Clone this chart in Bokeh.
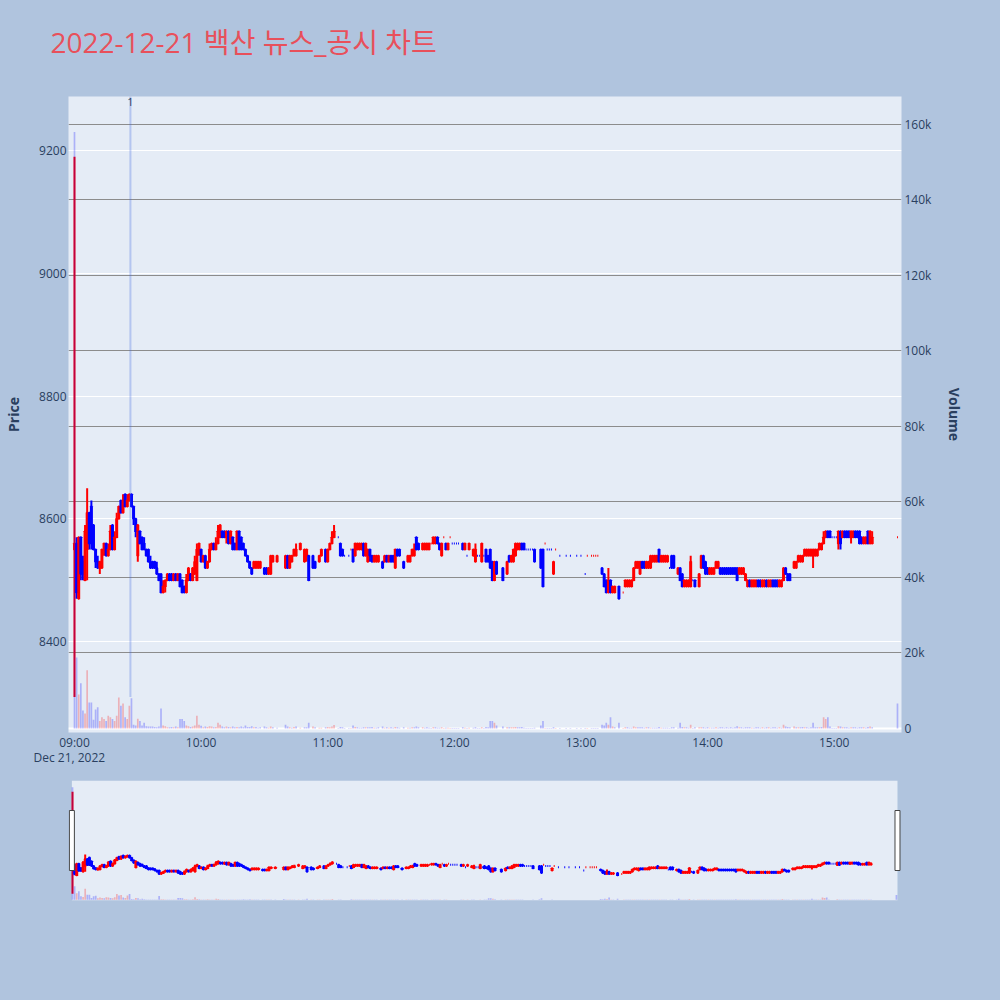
import numpy as np
import pandas as pd
from bokeh.plotting import figure
from bokeh.models import (ColumnDataSource, Range1d, LinearAxis, FixedTicker, Label,
                          BoxAnnotation, Title)
from bokeh.layouts import column
from bokeh.embed import file_html
from bokeh.resources import INLINE

# ---------------- data ----------------
TITLE = "2022-12-21 백산 뉴스_공시 차트"
DATE = "2022-12-21"
DATE_LABEL = "Dec 21, 2022"
PREV_CLOSE = 8600
NEWS_TIMES = ["09:26:30"]
NEWS_LABELS = ["1"]
PRICE_TICKS = [8400, 8600, 8800, 9000, 9200]
VOL_TICKS = [0, 20000, 40000, 60000, 80000, 100000, 120000, 140000, 160000]
VOL_TICK_LABELS = ["0", "20k", "40k", "60k", "80k", "100k", "120k", "140k", "160k"]
HOUR_TICKS = ["09:00", "10:00", "11:00", "12:00", "13:00", "14:00", "15:00"]

MINUTES = [
    0, 1, 2, 3, 4, 5, 6, 7, 8, 9,
    10, 11, 12, 13, 14, 15, 16, 17, 18, 19,
    20, 21, 22, 23, 24, 25, 26, 27, 28, 29,
    30, 31, 32, 33, 34, 35, 36, 37, 38, 39,
    40, 41, 42, 43, 44, 45, 46, 47, 48, 49,
    50, 51, 52, 53, 54, 55, 56, 57, 58, 59,
    60, 61, 62, 63, 64, 65, 66, 67, 68, 69,
    70, 71, 72, 73, 74, 75, 76, 77, 78, 79,
    80, 81, 82, 83, 84, 85, 86, 87, 88, 90,
    91, 92, 93, 94, 96, 100, 101, 102, 103, 104,
    105, 107, 109, 110, 111, 113, 114, 116, 117, 119,
    120, 121, 122, 123, 125, 126, 127, 128, 130, 131,
    132, 133, 134, 135, 136, 137, 138, 139, 140, 141,
    142, 143, 144, 146, 147, 148, 149, 150, 151, 152,
    153, 154, 156, 158, 159, 160, 161, 162, 163, 165,
    166, 167, 168, 169, 170, 171, 172, 173, 174, 175,
    176, 177, 178, 179, 180, 181, 182, 184, 185, 186,
    187, 189, 190, 191, 192, 193, 194, 195, 196, 197,
    198, 199, 200, 203, 205, 206, 207, 208, 209, 210,
    211, 212, 213, 214, 215, 216, 217, 218, 221, 222,
    223, 224, 225, 226, 227, 228, 230, 233, 235, 238,
    240, 242, 243, 245, 246, 247, 248, 250, 251, 252,
    253, 254, 255, 256, 258, 260, 261, 262, 263, 264,
    265, 266, 267, 268, 269, 270, 271, 272, 273, 274,
    275, 276, 277, 278, 279, 280, 281, 282, 283, 284,
    286, 287, 288, 289, 290, 291, 292, 293, 294, 296,
    297, 298, 299, 300, 301, 302, 303, 304, 305, 306,
    307, 308, 309, 310, 311, 312, 313, 314, 315, 316,
    317, 318, 319, 320, 321, 322, 323, 324, 325, 326,
    327, 328, 329, 330, 331, 332, 333, 334, 335, 336,
    337, 338, 339, 341, 342, 343, 344, 345, 346, 347,
    348, 349, 350, 351, 352, 353, 354, 355, 356, 357,
    358, 359, 360, 361, 362, 363, 364, 365, 366, 367,
    368, 369, 370, 371, 372, 373, 374, 375, 376, 377,
    378, 390,
]
OPEN = [
    8550, 8560, 8470, 8570, 8530, 8500, 8550, 8610, 8620, 8590,
    8550, 8530, 8520, 8520, 8550, 8560, 8540, 8550, 8590, 8550,
    8570, 8600, 8630, 8610, 8640, 8620, 8630, 8640, 8620, 8600,
    8540, 8580, 8570, 8560, 8550, 8550, 8530, 8530, 8530, 8520,
    8510, 8510, 8480, 8490, 8500, 8510, 8510, 8500, 8510, 8500,
    8510, 8500, 8490, 8480, 8500, 8510, 8500, 8510, 8500, 8550,
    8550, 8530, 8540, 8520, 8530, 8550, 8560, 8550, 8560, 8570,
    8580, 8580, 8570, 8580, 8560, 8570, 8560, 8550, 8580, 8570,
    8560, 8550, 8540, 8530, 8520, 8520, 8520, 8520, 8520, 8520,
    8520, 8510, 8510, 8530, 8530, 8520, 8540, 8520, 8530, 8540,
    8540, 8550, 8530, 8540, 8540, 8540, 8530, 8530, 8540, 8550,
    8530, 8550, 8560, 8570, 8570, 8560, 8550, 8540, 8540, 8550,
    8550, 8540, 8550, 8550, 8550, 8560, 8540, 8530, 8550, 8540,
    8530, 8530, 8530, 8530, 8530, 8540, 8530, 8540, 8540, 8520,
    8550, 8550, 8530, 8530, 8530, 8540, 8540, 8570, 8560, 8550,
    8550, 8550, 8550, 8560, 8560, 8560, 8570, 8560, 8540, 8570,
    8560, 8550, 8570, 8560, 8560, 8560, 8560, 8560, 8550, 8540,
    8550, 8540, 8530, 8540, 8540, 8530, 8540, 8550, 8540, 8550,
    8530, 8500, 8530, 8520, 8510, 8540, 8530, 8530, 8540, 8550,
    8550, 8560, 8560, 8550, 8550, 8550, 8550, 8550, 8550, 8550,
    8560, 8550, 8550, 8550, 8510, 8550, 8540, 8540, 8540, 8540,
    8540, 8510, 8540, 8540, 8540, 8540, 8540, 8520, 8510, 8500,
    8480, 8500, 8480, 8480, 8490, 8480, 8490, 8490, 8490, 8490,
    8500, 8520, 8520, 8510, 8530, 8530, 8520, 8520, 8520, 8530,
    8530, 8530, 8550, 8530, 8530, 8530, 8530, 8520, 8540, 8540,
    8510, 8520, 8510, 8490, 8490, 8490, 8490, 8500, 8500, 8490,
    8520, 8540, 8530, 8520, 8510, 8510, 8510, 8520, 8520, 8520,
    8520, 8520, 8520, 8520, 8520, 8520, 8520, 8520, 8510, 8510,
    8510, 8500, 8490, 8500, 8490, 8490, 8490, 8500, 8500, 8490,
    8490, 8500, 8490, 8490, 8500, 8500, 8500, 8490, 8490, 8500,
    8520, 8510, 8510, 8520, 8520, 8530, 8530, 8530, 8540, 8540,
    8540, 8540, 8540, 8540, 8540, 8550, 8550, 8560, 8570, 8580,
    8580, 8570, 8570, 8570, 8560, 8580, 8570, 8580, 8580, 8580,
    8570, 8570, 8580, 8580, 8580, 8570, 8560, 8560, 8580, 8560,
    8560, 8570,
]
HIGH = [
    9190, 8570, 8570, 8570, 8540, 8590, 8650, 8610, 8630, 8590,
    8550, 8540, 8530, 8550, 8560, 8560, 8560, 8590, 8590, 8580,
    8610, 8620, 8630, 8640, 8640, 8640, 8640, 8640, 8620, 8600,
    8590, 8580, 8570, 8570, 8550, 8550, 8540, 8530, 8530, 8530,
    8510, 8510, 8500, 8500, 8510, 8510, 8510, 8510, 8510, 8510,
    8510, 8500, 8490, 8510, 8520, 8510, 8520, 8540, 8560, 8560,
    8550, 8540, 8540, 8530, 8560, 8560, 8560, 8570, 8590, 8590,
    8580, 8580, 8580, 8580, 8580, 8570, 8560, 8580, 8580, 8570,
    8560, 8550, 8540, 8530, 8520, 8530, 8530, 8530, 8530, 8520,
    8520, 8520, 8540, 8540, 8540, 8540, 8540, 8540, 8540, 8550,
    8560, 8560, 8550, 8550, 8540, 8540, 8530, 8540, 8550, 8550,
    8550, 8560, 8580, 8590, 8570, 8560, 8550, 8540, 8540, 8550,
    8550, 8560, 8560, 8560, 8560, 8560, 8560, 8550, 8550, 8540,
    8540, 8540, 8540, 8530, 8540, 8540, 8540, 8540, 8540, 8550,
    8550, 8550, 8530, 8540, 8540, 8550, 8560, 8570, 8560, 8560,
    8560, 8560, 8560, 8560, 8570, 8570, 8570, 8560, 8560, 8570,
    8560, 8560, 8570, 8560, 8560, 8560, 8560, 8560, 8560, 8540,
    8560, 8550, 8560, 8540, 8540, 8560, 8540, 8550, 8540, 8550,
    8530, 8530, 8530, 8520, 8530, 8540, 8540, 8550, 8560, 8560,
    8560, 8560, 8560, 8550, 8550, 8550, 8550, 8550, 8550, 8550,
    8560, 8550, 8550, 8550, 8530, 8550, 8540, 8540, 8540, 8540,
    8540, 8510, 8540, 8540, 8540, 8540, 8540, 8520, 8510, 8500,
    8520, 8500, 8490, 8490, 8490, 8480, 8500, 8500, 8500, 8500,
    8520, 8530, 8530, 8530, 8530, 8530, 8530, 8530, 8540, 8540,
    8540, 8540, 8550, 8540, 8540, 8540, 8540, 8520, 8540, 8540,
    8520, 8520, 8510, 8500, 8500, 8500, 8540, 8500, 8500, 8510,
    8540, 8540, 8530, 8520, 8520, 8520, 8520, 8530, 8530, 8520,
    8520, 8520, 8520, 8520, 8520, 8520, 8520, 8520, 8520, 8520,
    8520, 8510, 8500, 8500, 8500, 8500, 8500, 8500, 8500, 8500,
    8500, 8500, 8500, 8500, 8500, 8500, 8500, 8500, 8500, 8520,
    8520, 8510, 8510, 8530, 8530, 8540, 8540, 8540, 8550, 8550,
    8550, 8550, 8550, 8550, 8550, 8560, 8560, 8580, 8580, 8580,
    8580, 8570, 8570, 8570, 8580, 8580, 8580, 8580, 8580, 8580,
    8580, 8580, 8580, 8580, 8580, 8570, 8570, 8570, 8580, 8580,
    8580, 8570,
]
LOW = [
    8310, 8470, 8470, 8500, 8500, 8500, 8500, 8550, 8550, 8550,
    8520, 8520, 8510, 8520, 8540, 8540, 8540, 8550, 8550, 8550,
    8570, 8600, 8610, 8610, 8620, 8620, 8630, 8620, 8590, 8570,
    8530, 8560, 8550, 8550, 8540, 8530, 8520, 8520, 8520, 8510,
    8500, 8480, 8480, 8480, 8500, 8500, 8500, 8500, 8500, 8500,
    8490, 8480, 8480, 8480, 8500, 8500, 8500, 8510, 8500, 8540,
    8530, 8530, 8520, 8520, 8530, 8550, 8550, 8550, 8560, 8570,
    8570, 8570, 8560, 8560, 8560, 8550, 8550, 8550, 8550, 8550,
    8550, 8540, 8530, 8520, 8510, 8520, 8520, 8520, 8520, 8510,
    8510, 8510, 8510, 8530, 8530, 8520, 8520, 8520, 8530, 8540,
    8540, 8550, 8530, 8530, 8500, 8520, 8520, 8530, 8540, 8530,
    8530, 8550, 8560, 8570, 8570, 8540, 8540, 8540, 8540, 8550,
    8530, 8540, 8550, 8550, 8550, 8540, 8540, 8530, 8530, 8530,
    8530, 8530, 8530, 8520, 8530, 8530, 8530, 8530, 8530, 8520,
    8540, 8540, 8520, 8530, 8530, 8540, 8540, 8550, 8550, 8550,
    8550, 8550, 8550, 8560, 8560, 8560, 8560, 8550, 8540, 8570,
    8550, 8550, 8570, 8560, 8560, 8560, 8560, 8550, 8550, 8540,
    8550, 8540, 8530, 8540, 8540, 8530, 8540, 8530, 8530, 8520,
    8500, 8500, 8510, 8500, 8510, 8530, 8530, 8530, 8540, 8550,
    8550, 8550, 8550, 8550, 8550, 8550, 8550, 8530, 8520, 8490,
    8560, 8550, 8550, 8550, 8510, 8550, 8540, 8540, 8540, 8540,
    8540, 8510, 8540, 8540, 8540, 8540, 8540, 8510, 8490, 8480,
    8480, 8480, 8480, 8480, 8470, 8480, 8490, 8490, 8490, 8490,
    8500, 8520, 8520, 8510, 8520, 8520, 8520, 8520, 8520, 8530,
    8530, 8530, 8530, 8530, 8530, 8530, 8530, 8520, 8520, 8520,
    8510, 8500, 8490, 8490, 8490, 8490, 8490, 8500, 8490, 8490,
    8520, 8520, 8510, 8510, 8510, 8510, 8510, 8520, 8520, 8510,
    8510, 8510, 8510, 8510, 8510, 8510, 8510, 8500, 8510, 8510,
    8510, 8500, 8490, 8490, 8490, 8490, 8490, 8490, 8490, 8490,
    8490, 8490, 8490, 8490, 8490, 8490, 8490, 8490, 8490, 8500,
    8510, 8500, 8500, 8520, 8520, 8530, 8530, 8530, 8540, 8540,
    8540, 8540, 8520, 8540, 8540, 8550, 8550, 8560, 8570, 8570,
    8570, 8570, 8570, 8570, 8550, 8550, 8570, 8570, 8570, 8570,
    8560, 8570, 8570, 8570, 8560, 8560, 8560, 8560, 8560, 8560,
    8560, 8570,
]
CLOSE = [
    8560, 8480, 8570, 8510, 8510, 8580, 8610, 8560, 8560, 8550,
    8530, 8520, 8530, 8550, 8560, 8540, 8550, 8580, 8550, 8570,
    8600, 8620, 8610, 8630, 8620, 8630, 8640, 8620, 8600, 8580,
    8590, 8560, 8550, 8550, 8540, 8530, 8520, 8520, 8520, 8510,
    8500, 8480, 8490, 8500, 8510, 8500, 8500, 8510, 8500, 8510,
    8490, 8480, 8480, 8500, 8520, 8500, 8520, 8530, 8550, 8560,
    8530, 8540, 8520, 8530, 8550, 8560, 8550, 8560, 8580, 8590,
    8570, 8570, 8580, 8560, 8580, 8550, 8550, 8580, 8550, 8550,
    8550, 8540, 8530, 8520, 8510, 8530, 8530, 8530, 8530, 8510,
    8510, 8520, 8540, 8540, 8540, 8540, 8520, 8540, 8540, 8550,
    8550, 8560, 8550, 8550, 8500, 8520, 8520, 8540, 8550, 8530,
    8550, 8560, 8570, 8580, 8570, 8540, 8540, 8540, 8540, 8550,
    8530, 8560, 8560, 8560, 8560, 8540, 8560, 8550, 8540, 8530,
    8540, 8540, 8540, 8520, 8540, 8530, 8540, 8530, 8530, 8550,
    8540, 8540, 8520, 8540, 8540, 8550, 8550, 8550, 8550, 8560,
    8560, 8560, 8560, 8560, 8570, 8570, 8560, 8550, 8560, 8570,
    8550, 8560, 8570, 8560, 8560, 8560, 8560, 8550, 8560, 8540,
    8560, 8550, 8550, 8540, 8540, 8560, 8540, 8530, 8530, 8520,
    8500, 8530, 8510, 8500, 8530, 8530, 8540, 8550, 8560, 8560,
    8560, 8550, 8550, 8550, 8550, 8550, 8550, 8530, 8520, 8490,
    8560, 8550, 8550, 8550, 8530, 8550, 8540, 8540, 8540, 8540,
    8540, 8510, 8540, 8540, 8540, 8540, 8540, 8510, 8490, 8480,
    8500, 8480, 8490, 8490, 8470, 8480, 8500, 8500, 8500, 8500,
    8520, 8530, 8530, 8530, 8520, 8520, 8530, 8530, 8540, 8540,
    8540, 8540, 8530, 8540, 8540, 8540, 8540, 8520, 8520, 8520,
    8520, 8500, 8490, 8500, 8500, 8500, 8530, 8500, 8490, 8510,
    8540, 8520, 8510, 8510, 8520, 8520, 8520, 8530, 8530, 8510,
    8510, 8510, 8510, 8510, 8510, 8510, 8510, 8500, 8520, 8520,
    8520, 8510, 8500, 8490, 8500, 8500, 8500, 8490, 8490, 8500,
    8500, 8490, 8500, 8500, 8490, 8490, 8490, 8500, 8500, 8520,
    8510, 8500, 8500, 8530, 8530, 8540, 8540, 8540, 8550, 8550,
    8550, 8550, 8550, 8550, 8550, 8560, 8560, 8570, 8580, 8570,
    8570, 8570, 8570, 8570, 8580, 8560, 8580, 8570, 8570, 8570,
    8580, 8580, 8570, 8570, 8560, 8560, 8570, 8570, 8560, 8580,
    8570, 8570,
]
VOLUME = [
    158000, 18800, 9000, 12000, 4800, 4000, 15400, 6900, 6900, 2300,
    5000, 5600, 2000, 3000, 2500, 2000, 3400, 3000, 2500, 2000,
    3400, 8200, 6000, 6600, 3000, 2500, 6000, 8000, 1000, 800,
    2600, 2000, 800, 1500, 600, 500, 500, 500, 400, 300,
    500, 5300, 800, 600, 300, 300, 400, 300, 500, 300,
    2500, 2500, 2000, 800, 600, 400, 500, 800, 3400, 1000,
    700, 300, 500, 400, 600, 500, 300, 400, 1500, 1000,
    500, 300, 500, 400, 300, 500, 300, 400, 300, 500,
    300, 800, 400, 400, 600, 300, 400, 200, 300, 500,
    300, 200, 500, 300, 200, 1000, 500, 300, 200, 400,
    500, 200, 300, 300, 1500, 500, 300, 200, 200, 300,
    400, 300, 500, 900, 100, 400, 300, 100, 100, 100,
    800, 400, 300, 200, 200, 300, 300, 300, 300, 400,
    200, 200, 300, 500, 200, 300, 200, 300, 200, 400,
    300, 200, 300, 200, 200, 300, 300, 500, 300, 300,
    200, 300, 200, 100, 300, 300, 200, 200, 300, 100,
    200, 200, 100, 100, 100, 100, 100, 300, 200, 100,
    200, 200, 300, 100, 100, 300, 100, 400, 300, 2000,
    2000, 1500, 800, 500, 300, 300, 300, 300, 400, 300,
    300, 400, 200, 100, 100, 100, 100, 200, 800, 2000,
    100, 100, 100, 100, 300, 100, 100, 100, 100, 100,
    100, 100, 100, 100, 100, 100, 100, 1000, 800, 1500,
    1000, 3000, 500, 300, 1500, 100, 300, 300, 200, 200,
    500, 300, 300, 300, 300, 200, 300, 300, 200, 200,
    200, 200, 400, 200, 200, 200, 200, 100, 300, 300,
    200, 1500, 400, 300, 300, 200, 1000, 100, 300, 300,
    300, 300, 200, 300, 200, 200, 200, 300, 200, 300,
    300, 200, 300, 200, 300, 200, 300, 600, 300, 300,
    200, 300, 300, 300, 200, 200, 300, 300, 200, 300,
    200, 300, 300, 200, 300, 300, 200, 300, 200, 1000,
    500, 400, 300, 500, 300, 300, 300, 400, 300, 300,
    200, 300, 1500, 300, 300, 300, 400, 3000, 2500, 3000,
    500, 100, 100, 100, 600, 500, 300, 300, 300, 200,
    300, 300, 300, 200, 300, 300, 300, 200, 400, 500,
    300, 6600,
]

# ---------------- layout constants ----------------
PAGE_BG = "#B0C4DE"
PLOT_BG = "#E5ECF6"
INC_COLOR = "#FF0000"
DEC_COLOR = "#0000FF"
TITLE_COLOR = "#E8505B"
TEXT_COLOR = "#2a3f5f"
VOL_GRID = "#8c8c8c"
PRICE_RANGE = (8252, 9288)
VOL_RANGE = (-1060, 167400)
X_START_MIN, X_END_MIN = -2.84, 391.9          # main plot x range (minutes after 09:00)
SLIDER_START_MIN, SLIDER_END_MIN = -1.9, 392.4  # slider frame x range
SLIDER_BOX_MIN = (-0.3, 390.5)                  # slider shaded area
PAGE_W = 1000

n = len(MINUTES)
assert all(len(a) == n for a in (OPEN, HIGH, LOW, CLOSE, VOLUME))

EPOCH = pd.Timestamp("1970-01-01")


def ms(ts):
    return (pd.Timestamp(ts) - EPOCH).total_seconds() * 1000.0


t0 = pd.Timestamp(f"{DATE} 09:00")
T0 = ms(t0)
times = t0 + pd.to_timedelta(np.array(MINUTES), unit="m")
o = np.array(OPEN)
h = np.array(HIGH)
l = np.array(LOW)
c = np.array(CLOSE)
v = np.array(VOLUME)

# candle direction (plotly style: equal open/close -> compare with previous close)
colors = []
vcolors = []
prev_c = PREV_CLOSE
prev_dir = False
for oi, ci in zip(o, c):
    if ci > oi:
        d = True
    elif ci < oi:
        d = False
    elif ci != prev_c:
        d = ci > prev_c
    else:
        d = prev_dir
    colors.append(INC_COLOR if d else DEC_COLOR)
    vcolors.append(INC_COLOR if ci > prev_c else DEC_COLOR)
    prev_dir = d
    prev_c = ci

src = ColumnDataSource(dict(
    x=times, top=np.maximum(o, c), bottom=np.minimum(o, c),
    high=h, low=l, color=colors, vol=v, vcolor=vcolors,
))

MIN_MS = 60000.0
CANDLE_W = 0.45 * MIN_MS
VOL_W = 0.8 * MIN_MS


def draw_data(fig):
    fig.segment(x0="x", y0="low", x1="x", y1="high", source=src,
                line_color="color", line_width=2)
    fig.vbar(x="x", top="top", bottom="bottom", width=CANDLE_W, source=src,
             fill_color="color", line_color="color", line_width=2)
    fig.vbar(x="x", top="vol", bottom=0, width=VOL_W, source=src,
             fill_color="vcolor", fill_alpha=0.25, line_color=None,
             y_range_name="vol")


# ---------------- title strip (title sits in the panel above a blank frame) ----------------
pt = figure(width=PAGE_W, height=80, x_range=Range1d(0, 1), y_range=Range1d(0, 1),
            x_axis_location=None, y_axis_location=None,
            output_backend="svg", toolbar_location=None,
            min_border_left=68, min_border_right=99,
            min_border_top=65, min_border_bottom=0,
            background_fill_color=PAGE_BG, border_fill_color=PAGE_BG,
            outline_line_color=None)
pt.grid.visible = False
pt.title.text = TITLE
pt.title.text_font = "Open Sans, Noto Sans CJK KR"
pt.title.text_font_size = "28px"
pt.title.text_font_style = "normal"
pt.title.text_color = TITLE_COLOR
pt.title.align = "left"
pt.title.vertical_align = "bottom"
pt.title.offset = -18
pt.title.standoff = 10

# ---------------- main figure ----------------
p = figure(width=PAGE_W, height=695, x_axis_type="datetime",
           x_range=Range1d(T0 + X_START_MIN * MIN_MS, T0 + X_END_MIN * MIN_MS),
           y_range=Range1d(*PRICE_RANGE),
           output_backend="svg", toolbar_location=None,
           min_border_left=68, min_border_right=99,
           min_border_top=16, min_border_bottom=43,
           background_fill_color=PLOT_BG, border_fill_color=PAGE_BG,
           outline_line_color=None)
p.title.standoff = 0

p.extra_y_ranges = {"vol": Range1d(*VOL_RANGE)}

# grids
p.xgrid.grid_line_color = None
p.ygrid.grid_line_color = "white"
p.ygrid.grid_line_width = 1
p.ygrid.ticker = FixedTicker(ticks=PRICE_TICKS)
p.hspan(y=VOL_TICKS[1:], y_range_name="vol", line_color=VOL_GRID,
        line_width=1, level="underlay")
p.hspan(y=[0], y_range_name="vol", line_color="white", line_width=2,
        level="underlay")


def style_axis(ax):
    ax.axis_line_color = None
    ax.major_tick_line_color = None
    ax.minor_tick_line_color = None
    ax.major_tick_out = 0
    ax.major_tick_in = 0
    ax.minor_tick_out = 0
    ax.minor_tick_in = 0
    ax.major_label_text_font = "Open Sans"
    ax.major_label_text_font_size = "12px"
    ax.major_label_text_color = TEXT_COLOR
    ax.axis_label_text_font = "Open Sans"
    ax.axis_label_text_font_size = "14px"
    ax.axis_label_text_font_style = "bold"
    ax.axis_label_text_color = TEXT_COLOR


# x axis
hour_ms = [ms(f"{DATE} {hh}") for hh in HOUR_TICKS]
p.xaxis.ticker = FixedTicker(ticks=hour_ms)
p.xaxis.major_label_overrides = {int(t): lab for t, lab in zip(hour_ms, HOUR_TICKS)}
style_axis(p.xaxis[0])
p.xaxis.major_label_standoff = 1
p.add_layout(Title(text=DATE_LABEL, align="left", vertical_align="top", offset=-35,
                   standoff=-10, text_font="Open Sans", text_font_size="12px",
                   text_font_style="normal", text_color=TEXT_COLOR), "below")

# left price axis
p.yaxis.ticker = FixedTicker(ticks=PRICE_TICKS)
p.yaxis.axis_label = "Price"
style_axis(p.yaxis[0])
p.yaxis.major_label_standoff = 2
p.yaxis.axis_label_standoff = 13

# right volume axis
vax = LinearAxis(y_range_name="vol", ticker=FixedTicker(ticks=VOL_TICKS),
                 axis_label="Volume")
vax.major_label_overrides = {t: lab for t, lab in zip(VOL_TICKS, VOL_TICK_LABELS)}
style_axis(vax)
vax.major_label_standoff = 3
vax.axis_label_standoff = 11
p.add_layout(vax, "right")

draw_data(p)

# news markers
for nt, nl in zip(NEWS_TIMES, NEWS_LABELS):
    nx = ms(f"{DATE} {nt}")
    p.segment(x0=[nx], y0=[float(l.min())], x1=[nx], y1=[PRICE_RANGE[1]],
              line_color="royalblue", line_alpha=0.3, line_width=2)
    p.add_layout(Label(x=nx, y=PRICE_RANGE[1], y_offset=-5, text=nl,
                       text_align="center", text_baseline="middle",
                       text_font="Open Sans", text_font_size="11px",
                       text_color=TEXT_COLOR))

# ---------------- range slider ----------------
p2 = figure(width=PAGE_W, height=225, x_axis_type="datetime",
            x_range=Range1d(T0 + SLIDER_START_MIN * MIN_MS, T0 + SLIDER_END_MIN * MIN_MS),
            y_range=Range1d(*PRICE_RANGE),
            x_axis_location=None, y_axis_location=None,
            output_backend="svg", toolbar_location=None,
            min_border_left=68, min_border_right=99,
            min_border_top=5, min_border_bottom=100,
            background_fill_color=PAGE_BG, border_fill_color=PAGE_BG,
            outline_line_color=None)
p2.grid.visible = False
p2.title.standoff = 0
p2.extra_y_ranges = {"vol": Range1d(*VOL_RANGE)}
bx0 = T0 + SLIDER_BOX_MIN[0] * MIN_MS
bx1 = T0 + SLIDER_BOX_MIN[1] * MIN_MS
p2.add_layout(BoxAnnotation(left=bx0, right=bx1, fill_color=PLOT_BG, fill_alpha=1.0,
                            line_color=None, level="underlay"))
draw_data(p2)
mid = (PRICE_RANGE[0] + PRICE_RANGE[1]) / 2.0
p2.rect(x=[bx0, bx1], y=[mid, mid], width=5, height=60,
        width_units="screen", height_units="screen",
        fill_color="white", line_color="#444444", line_width=1)

layout = column(pt, p, p2)
html = file_html(layout, INLINE, title=TITLE)
html = html.replace("</head>",
                    "<style>html,body{background:%s;}</style></head>" % PAGE_BG, 1)
open("out.html", "w").write(html)
